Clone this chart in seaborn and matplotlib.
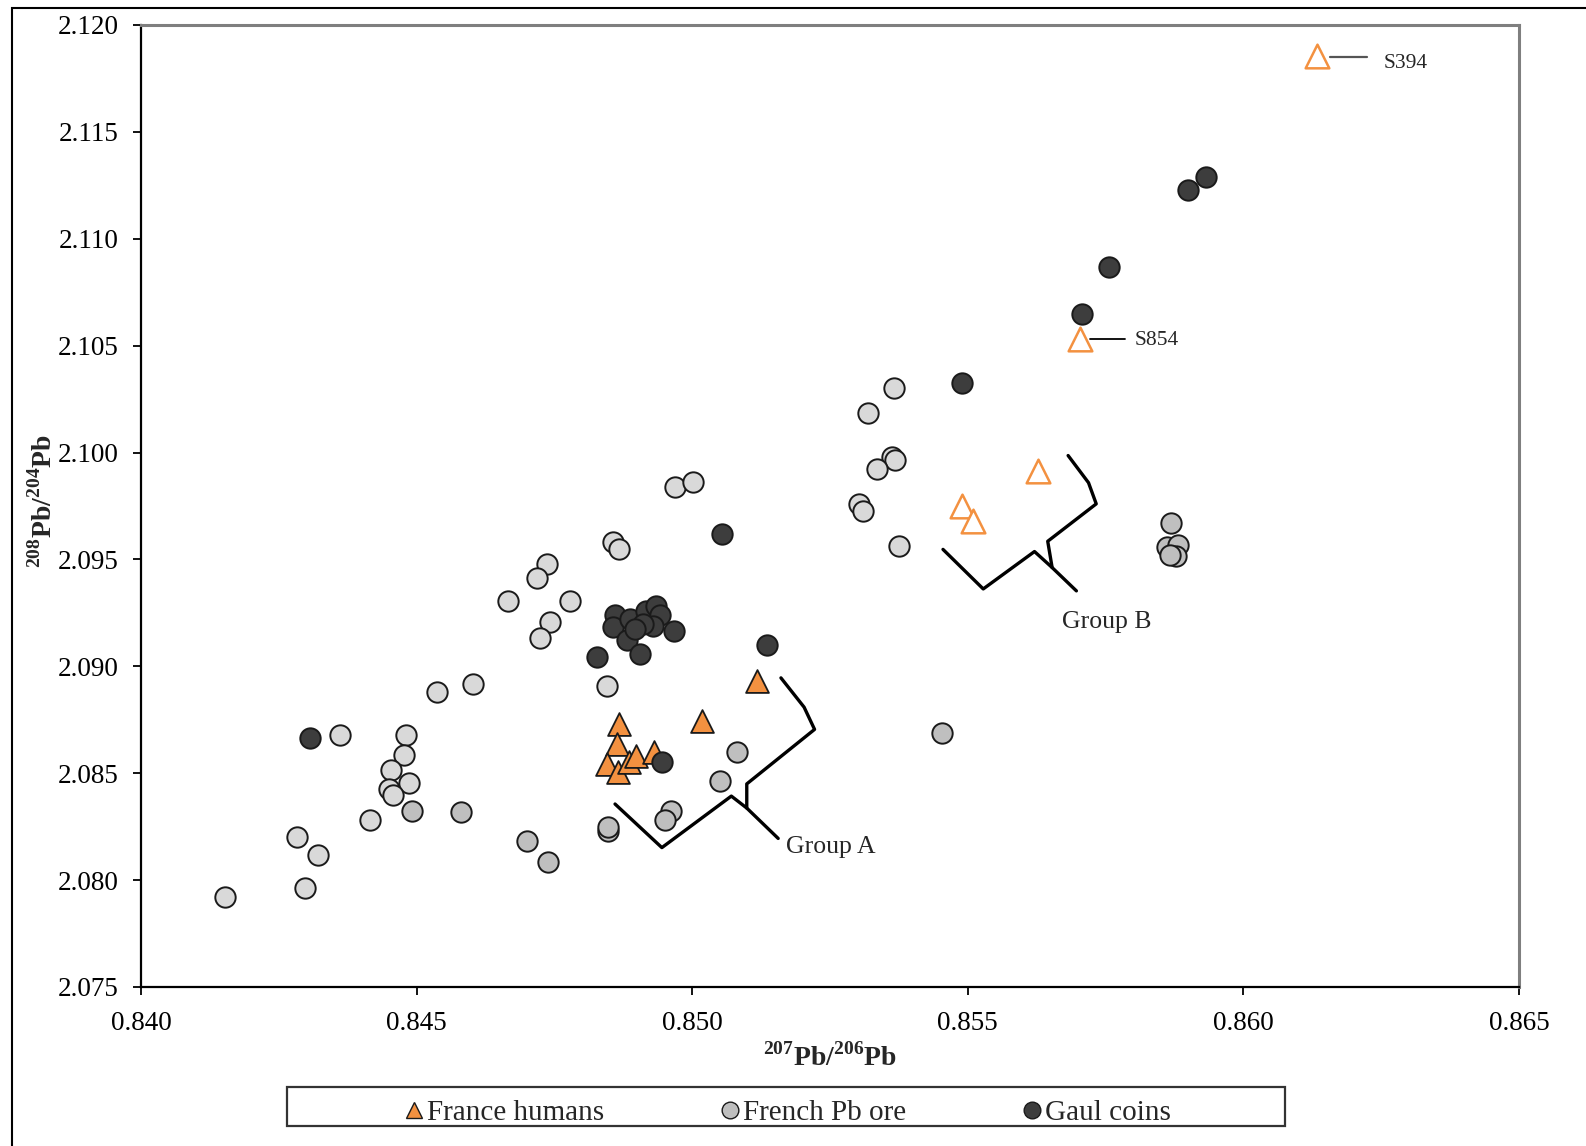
import numpy as np
import pandas as pd
import matplotlib
matplotlib.use("Agg")
import matplotlib.pyplot as plt
import seaborn as sns
from matplotlib.patches import Rectangle
from matplotlib.lines import Line2D
from matplotlib.ticker import FormatStrFormatter

# ---------------- data ----------------
# France humans (filled orange triangles, Group A)
humans_x = [0.85117, 0.85017, 0.84868, 0.84864, 0.84845, 0.84866, 0.84886, 0.84898, 0.84930]
humans_y = [2.08932, 2.08746, 2.08730, 2.08635, 2.08543, 2.08507, 2.08554, 2.08582, 2.08599]

# France humans, Group B / outliers (open orange triangles)
humans_open_x = [0.85489, 0.85509, 0.85627, 0.85703, 0.86133]
humans_open_y = [2.09750, 2.09681, 2.09914, 2.10530, 2.11856]

# French Pb ore (light grey)
ore_light_x = [0.84153, 0.84298, 0.84283, 0.84322, 0.84415, 0.84361, 0.84481, 0.84478,
               0.84453, 0.84487, 0.84450, 0.84458, 0.84537, 0.84603, 0.84969, 0.85001,
               0.84857, 0.84868, 0.84736, 0.84719, 0.84666, 0.84779, 0.84742, 0.84723,
               0.84845, 0.85366, 0.85319, 0.85362, 0.85368, 0.85335, 0.85302, 0.85310,
               0.85376]
ore_light_y = [2.07921, 2.07963, 2.08202, 2.08117, 2.08282, 2.08679, 2.08679, 2.08585,
               2.08516, 2.08455, 2.08427, 2.08398, 2.08880, 2.08918, 2.09837, 2.09861,
               2.09580, 2.09551, 2.09478, 2.09412, 2.09306, 2.09306, 2.09208, 2.09132,
               2.08909, 2.10303, 2.10185, 2.09977, 2.09963, 2.09925, 2.09760, 2.09726,
               2.09561]

# French Pb ore (medium grey)
ore_mid_x = [0.84492, 0.84581, 0.84701, 0.84739, 0.84847, 0.84847, 0.84961, 0.84950,
             0.85082, 0.85051, 0.85453, 0.85869, 0.85861, 0.85882, 0.85878, 0.85867]
ore_mid_y = [2.08323, 2.08318, 2.08181, 2.08086, 2.08228, 2.08247, 2.08323, 2.08280,
             2.08597, 2.08464, 2.08686, 2.09670, 2.09556, 2.09566, 2.09518, 2.09523]

# Gaul coins (dark)
coins_x = [0.84306, 0.84860, 0.84856, 0.84887, 0.84881, 0.84906, 0.84827, 0.84917,
           0.84935, 0.84942, 0.84929, 0.84967, 0.84911, 0.84897, 0.85054, 0.85136,
           0.84945, 0.85489, 0.85707, 0.85756, 0.85900, 0.85933]
coins_y = [2.08663, 2.09240, 2.09183, 2.09221, 2.09124, 2.09057, 2.09043, 2.09260,
           2.09283, 2.09240, 2.09190, 2.09166, 2.09197, 2.09174, 2.09618, 2.09099,
           2.08554, 2.10324, 2.10646, 2.10870, 2.11230, 2.11291]

legend_labels = ["France humans", "French Pb ore", "Gaul coins"]
x_ticks = [0.840, 0.845, 0.850, 0.855, 0.860, 0.865]
y_ticks = [2.075, 2.080, 2.085, 2.090, 2.095, 2.100, 2.105, 2.110, 2.115, 2.120]

# bracket annotations (data coordinates)
bracketA1_x = [0.84860, 0.84945, 0.85071, 0.85099, 0.85156]
bracketA1_y = [2.08356, 2.08152, 2.08393, 2.08337, 2.08195]
bracketA2_x = [0.85161, 0.85203, 0.85222, 0.85099, 0.85099]
bracketA2_y = [2.08946, 2.08809, 2.08705, 2.08450, 2.08337]
bracketB1_x = [0.85455, 0.85528, 0.85621, 0.85653, 0.85697]
bracketB1_y = [2.09547, 2.09362, 2.09537, 2.09462, 2.09353]
bracketB2_x = [0.85682, 0.85719, 0.85733, 0.85645, 0.85653]
bracketB2_y = [2.09986, 2.09859, 2.09760, 2.09585, 2.09462]

# ---------------- style ----------------
sns.set_theme(style="white")
plt.rcParams["font.family"] = ["Liberation Serif", "DejaVu Serif"]
plt.rcParams["mathtext.fontset"] = "custom"
plt.rcParams["mathtext.rm"] = "Liberation Serif"
plt.rcParams["mathtext.bf"] = "Liberation Serif:bold"

ORANGE = "#f39140"
EDGE = "#1a1a1a"
LIGHT = "#d9d9d9"
MID = "#bfbfbf"
DARK = "#3d3d3d"

fig = plt.figure(figsize=(15.86, 11.46), dpi=100)
ax = fig.add_axes([141 / 1586, 1 - 987 / 1146, 1378 / 1586, 962 / 1146])

df_ore_l = pd.DataFrame({"x": ore_light_x, "y": ore_light_y})
df_ore_m = pd.DataFrame({"x": ore_mid_x, "y": ore_mid_y})
df_hum = pd.DataFrame({"x": humans_x, "y": humans_y})
df_hum_o = pd.DataFrame({"x": humans_open_x, "y": humans_open_y})
df_coin = pd.DataFrame({"x": coins_x, "y": coins_y})

sns.scatterplot(data=df_ore_l, x="x", y="y", ax=ax, marker="o", s=215,
                color=LIGHT, edgecolor=EDGE, linewidth=1.4, zorder=3, legend=False)
sns.scatterplot(data=df_ore_m, x="x", y="y", ax=ax, marker="o", s=215,
                color=MID, edgecolor=EDGE, linewidth=1.4, zorder=3, legend=False)
sns.scatterplot(data=df_hum, x="x", y="y", ax=ax, marker="^", s=270,
                color=ORANGE, edgecolor=EDGE, linewidth=1.3, zorder=4, legend=False)
sns.scatterplot(data=df_hum_o, x="x", y="y", ax=ax, marker="^", s=290,
                color="white", edgecolor=ORANGE, linewidth=1.8, zorder=4, legend=False)
sns.scatterplot(data=df_coin, x="x", y="y", ax=ax, marker="o", s=215,
                color=DARK, edgecolor=EDGE, linewidth=1.4, zorder=5, legend=False)

# brackets
for bx, by in [(bracketA1_x, bracketA1_y), (bracketA2_x, bracketA2_y),
               (bracketB1_x, bracketB1_y), (bracketB2_x, bracketB2_y)]:
    ax.plot(bx, by, color="black", lw=2.4, solid_joinstyle="round",
            solid_capstyle="round", zorder=2)

ax.text(0.85170, 2.08157, "Group A", fontsize=18.5, ha="left", va="center")
ax.text(0.85671, 2.09206, "Group B", fontsize=18.5, ha="left", va="center")

# sample labels
ax.plot([0.85722, 0.85785], [2.10530, 2.10530], color="black", lw=1.3, zorder=2)
ax.text(0.85803, 2.10525, "S854", fontsize=15.5, ha="left", va="center")
ax.plot([0.86157, 0.86225], [2.11849, 2.11849], color="#555555", lw=1.6, zorder=2)
ax.text(0.86254, 2.11820, "S394", fontsize=15.5, ha="left", va="center")

# axes
ax.set_xlim(0.840, 0.865)
ax.set_ylim(2.075, 2.120)
ax.set_xticks(x_ticks)
ax.set_yticks(y_ticks)
ax.xaxis.set_major_formatter(FormatStrFormatter("%.3f"))
ax.yaxis.set_major_formatter(FormatStrFormatter("%.3f"))
ax.tick_params(axis="both", which="major", direction="out", length=6, width=1.3,
               labelsize=19.5, colors="black", left=True, bottom=True)
ax.tick_params(axis="x", pad=11)
ax.tick_params(axis="y", pad=10)
ax.grid(False)
ax.set_facecolor("white")
for side in ["left", "bottom"]:
    ax.spines[side].set_color("black")
    ax.spines[side].set_linewidth(1.6)
for side in ["top", "right"]:
    ax.spines[side].set_color("#7f7f7f")
    ax.spines[side].set_linewidth(2.2)

ax.set_xlabel(r"$^{\mathbf{207}}\mathbf{Pb/}^{\mathbf{206}}\mathbf{Pb}$", fontsize=20)
ax.set_ylabel(r"$^{\mathbf{208}}\mathbf{Pb/}^{\mathbf{204}}\mathbf{Pb}$", fontsize=20)
ax.xaxis.set_label_coords(0.5, -0.058)
ax.yaxis.set_label_coords(-0.0605, 0.505)

# legend box and legend
fig.patches.append(Rectangle((287 / 1586, 1 - 1126 / 1146), 998 / 1586, 39 / 1146,
                             transform=fig.transFigure, facecolor="white",
                             edgecolor="#333333", linewidth=1.6, zorder=0))
handles = [
    Line2D([], [], ls="", marker="^", ms=12, mfc=ORANGE, mec=EDGE, mew=1.0),
    Line2D([], [], ls="", marker="o", ms=12, mfc=MID, mec=EDGE, mew=1.0),
    Line2D([], [], ls="", marker="o", ms=12, mfc=DARK, mec=EDGE, mew=1.0),
]
fig.legend(handles, legend_labels, loc="center", bbox_to_anchor=(0.496, 0.029),
           ncol=3, frameon=False, fontsize=21, columnspacing=3.9,
           handletextpad=0.05, handlelength=0.8)

# outer frame
fig.patches.append(Rectangle((12 / 1586, -0.1), 1.2, 1.1 - 8 / 1146,
                             transform=fig.transFigure, facecolor="none",
                             edgecolor="black", linewidth=1.5, zorder=0))

fig.savefig("out.png", dpi=100)
